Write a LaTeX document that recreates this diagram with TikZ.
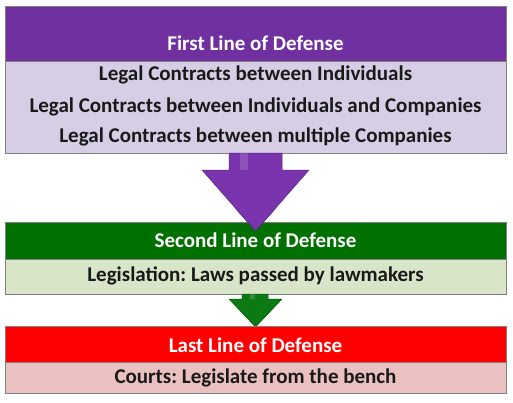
\documentclass[tikz,border=0pt]{standalone}
\usepackage{fontspec}
\setmainfont{Carlito}
\usetikzlibrary{calc}
\definecolor{purpH}{HTML}{7030A0}
\definecolor{purpB}{HTML}{D7CDE5}
\definecolor{purpA}{HTML}{7A35AE}
\definecolor{greenH}{HTML}{007000}
\definecolor{greenB}{HTML}{D9E5C9}
\definecolor{greenA}{HTML}{0B7A12}
\definecolor{redH}{HTML}{FF0000}
\definecolor{redB}{HTML}{EBC0C0}
\definecolor{edge}{HTML}{808080}
\tikzset{
  x=1pt, y=-1pt,
  band/.style={draw=edge, line width=0.8pt},
  htext/.style={font=\frenchspacing\bfseries\fontsize{21}{24}\selectfont, text=white, inner sep=0pt},
  btext/.style={font=\frenchspacing\bfseries\fontsize{21}{24}\selectfont, text=black!90, inner sep=0pt},
  arrowshape/.style={draw=#1!70!black, line width=0.5pt, fill=#1, line join=round},
}
\begin{document}
\begin{tikzpicture}
\useasboundingbox (0,0) rectangle (513,402);
\fill[white] (0,0) rectangle (513,402);

% First
\fill[band, fill=purpH] (5,6) rectangle (506,61);
\fill[band, fill=purpB] (5,61) rectangle (506,153);
\node[htext] (h1) at (255.5,43) {First Line of Defense};
\node[btext] (b1a) at (255.5,75) {Legal Contracts between Individuals};
\node[btext] (b1b) at (255.5,107) {Legal Contracts between Individuals and Companies};
\node[btext] (b1c) at (255.5,137) {Legal Contracts between multiple Companies};

% Arrow 1
\path[arrowshape=purpA] (229,153) -- (282,153) -- (282,170) -- (309,170) -- (255.5,231) -- (202,170) -- (229,170) -- cycle;
\fill[white, opacity=0.15] (240,153) -- (248,153) -- (248,170) -- (240,170) -- cycle;

% Second
\fill[band, fill=greenH] (5,222) rectangle (506,259);
\fill[band, fill=greenB] (5,259) rectangle (506,294);
\node[htext] (h2) at (255.5,240) {Second Line of Defense};
\node[btext] (b2) at (255.5,276) {Legislation: Laws passed by lawmakers};
% redraw arrow tip over green header
\path[arrowshape=purpA] (236,209) -- (275,209) -- (255.5,231) -- cycle;
\fill[purpA] (236,208) -- (275,208) -- (274,210) -- (237,210) -- cycle;

% Arrow 2
\path[arrowshape=greenA] (242,294) -- (268,294) -- (268,299) -- (282,299) -- (255.5,327) -- (229,299) -- (242,299) -- cycle;
\fill[white, opacity=0.15] (250,294) -- (255,294) -- (255,299) -- (250,299) -- cycle;

% Last
\fill[band, fill=redH] (5,326) rectangle (506,362);
\fill[band, fill=redB] (5,362) rectangle (506,393);
\node[htext] (h3) at (255.5,345) {Last Line of Defense};
\node[btext] (b3) at (255.5,378) {Courts: Legislate from the bench};
\end{tikzpicture}
\end{document}
